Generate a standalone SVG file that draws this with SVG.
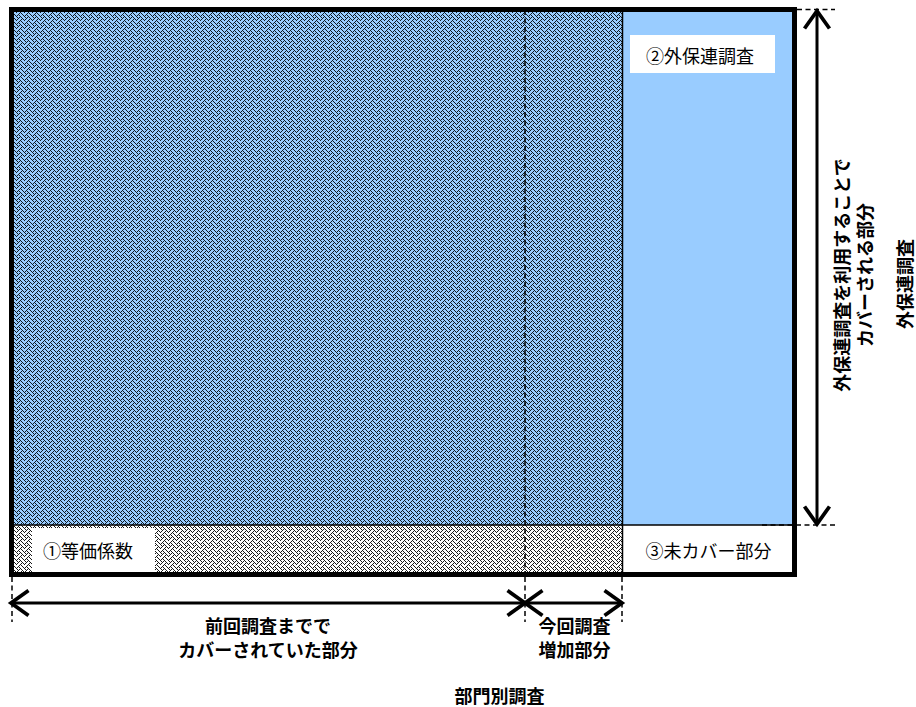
<svg xmlns="http://www.w3.org/2000/svg" width="916" height="707" viewBox="0 0 916 707">
<style>
.lbl{font-family:"Noto Sans CJK JP","Liberation Sans",sans-serif;font-size:18px;fill:#000}
.bold{font-weight:700}
.dash{stroke:#000;stroke-width:1.5;stroke-dasharray:5 3.5;fill:none}
.arrow{stroke:#000;stroke-width:3;fill:none;marker-start:url(#ah);marker-end:url(#ah)}
.thin{stroke:#000;stroke-width:1.5;fill:none}
</style>
<defs>
<path id="weave" d="M0 0h1v1h-1zM4 0h1v1h-1zM1 1h1v1h-1zM3 1h1v1h-1zM5 1h1v1h-1zM2 2h1v1h-1zM6 2h1v1h-1zM1 3h1v1h-1zM5 3h1v1h-1zM7 3h1v1h-1zM0 4h1v1h-1zM4 4h1v1h-1zM3 5h1v1h-1zM5 5h1v1h-1zM2 6h1v1h-1zM6 6h1v1h-1zM1 7h1v1h-1zM3 7h1v1h-1zM7 7h1v1h-1z"/>
<pattern id="pBlue" width="8" height="8" patternUnits="userSpaceOnUse">
<rect width="8" height="8" fill="#99CCFF"/>
<use href="#weave" fill="#0d1822"/>
</pattern>
<pattern id="pGrey" width="8" height="8" patternUnits="userSpaceOnUse">
<rect width="8" height="8" fill="#ffffff"/>
<use href="#weave" fill="#1a1a1a"/>
</pattern>
<marker id="ah" markerUnits="userSpaceOnUse" markerWidth="30" markerHeight="30" refX="0" refY="0" viewBox="-16 -12 18 24" orient="auto-start-reverse" overflow="visible">
<path d="M-14 -10L0 0L-14 10" stroke="#000" stroke-width="3" fill="none"/>
</marker>
</defs>
<rect width="916" height="707" fill="#fff"/>
<g id="region-covered-previous">
<rect x="11.5" y="9.5" width="611" height="515.5" fill="url(#pBlue)"/>
</g>
<g id="region-equivalence">
<rect x="11.5" y="525" width="611" height="49.5" fill="url(#pGrey)"/>
<rect x="32" y="528" width="123" height="44" fill="#fff"/>
<text class="lbl" x="43" y="558">①等価係数</text>
</g>
<g id="region-gaihoren">
<rect x="622.5" y="9.5" width="172" height="515.5" fill="#99CCFF"/>
<rect x="630" y="35" width="145" height="38" fill="#fff"/>
<text class="lbl" x="700" y="63" text-anchor="middle">②外保連調査</text>
</g>
<g id="region-uncovered">
<rect x="622.5" y="525" width="172" height="49.5" fill="#fff"/>
<text class="lbl" x="708.5" y="558" text-anchor="middle">③未カバー部分</text>
</g>
<g id="frame">
<line class="thin" x1="11.5" y1="525" x2="794.5" y2="525"/>
<line class="thin" x1="622.5" y1="9.5" x2="622.5" y2="574.5"/>
<line class="dash" x1="525" y1="10" x2="525" y2="574"/>
<rect x="11.5" y="9.5" width="783" height="565" fill="none" stroke="#000" stroke-width="5"/>
</g>
<g id="connectors">
<line class="dash" x1="797" y1="9.5" x2="835" y2="9.5"/>
<line class="dash" x1="762" y1="525" x2="835" y2="525"/>
<line class="dash" x1="12" y1="577" x2="12" y2="622"/>
<line class="dash" x1="525" y1="577" x2="525" y2="622"/>
<line class="dash" x1="622" y1="577" x2="622" y2="622"/>
<line class="arrow" x1="817" y1="11" x2="817" y2="524"/>
<line class="arrow" x1="11" y1="603" x2="525" y2="603"/>
<line class="arrow" x1="525" y1="603" x2="622" y2="603"/>
</g>
<g id="label-previous">
<text class="lbl bold" x="268" y="633" text-anchor="middle">前回調査までで</text>
<text class="lbl bold" x="268" y="656.5" text-anchor="middle">カバーされていた部分</text>
</g>
<g id="label-increase">
<text class="lbl bold" x="574.5" y="633" text-anchor="middle">今回調査</text>
<text class="lbl bold" x="574.5" y="656.5" text-anchor="middle">増加部分</text>
</g>
<g id="label-bumon">
<text class="lbl bold" x="499.5" y="703" text-anchor="middle">部門別調査</text>
</g>
<g id="label-gaihoren-cover">
<text class="lbl bold" x="841" y="275" text-anchor="middle" dominant-baseline="central" font-size="17.5" transform="rotate(-90 841 275)">外保連調査を利用することで</text>
<text class="lbl bold" x="864" y="275" text-anchor="middle" dominant-baseline="central" transform="rotate(-90 864 275)">カバーされる部分</text>
</g>
<g id="label-gaihoren">
<text class="lbl bold" x="904" y="284" text-anchor="middle" dominant-baseline="central" transform="rotate(-90 904 284)">外保連調査</text>
</g>
</svg>
